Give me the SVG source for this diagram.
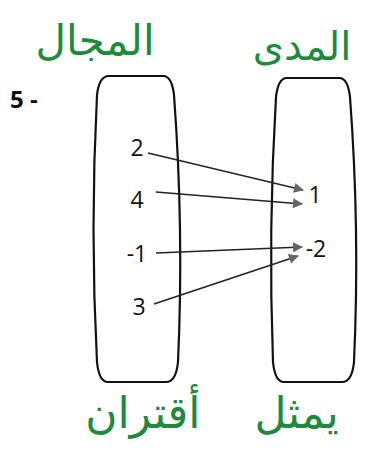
<svg xmlns="http://www.w3.org/2000/svg" width="371" height="450" viewBox="0 0 371 450">
<style>
.set{fill:none;stroke:#111;stroke-width:2.2}
.num{font-family:"Open Sans","Liberation Sans",sans-serif;font-size:23px;fill:#111;text-anchor:middle}
.ar{font-family:"DejaVu Sans","Noto Sans",sans-serif;fill:#1e8a3c;text-anchor:middle}
.ln{stroke:#222;stroke-width:1.4;fill:none;marker-end:url(#ah)}
</style>
<defs>
<marker id="ah" viewBox="0 0 10 10" refX="9" refY="5" markerWidth="12" markerHeight="10" markerUnits="userSpaceOnUse" orient="auto">
<path d="M0,0 L10,5 L0,10 Z" fill="#666"/>
</marker>
</defs>
<rect width="371" height="450" fill="#fff"/>
<text class="ar" x="95" y="55" font-size="42">المجال</text>
<text class="ar" x="302" y="60" font-size="40">المدى</text>
<text x="10" y="108" font-family="Open Sans, Liberation Sans, sans-serif" font-size="24" font-weight="bold" fill="#111" xml:space="preserve">5 -</text>
<g id="domain">
<path class="set" d="M108,76 L164,76 Q172,77 174,95 Q184,230 178,362 Q176,382 166,382 L108,382 Q99,382 97,362 Q90,230 97,95 Q99,77 108,76 Z"/>
<text class="num" x="137" y="156">2</text>
<text class="num" x="137" y="208">4</text>
<text class="num" x="137" y="262">-1</text>
<text class="num" x="139" y="315">3</text>
</g>
<g id="range">
<path class="set" d="M286,78 L340,78 Q348,79 350,97 Q360,230 354,362 Q352,382 342,382 L284,382 Q275,382 273,362 Q268,230 276,97 Q278,79 286,78 Z"/>
<text class="num" x="315" y="203">1</text>
<text class="num" x="316" y="257">-2</text>
</g>
<g id="connectors">
<line class="ln" x1="148" y1="153" x2="303" y2="190"/>
<line class="ln" x1="156" y1="192" x2="302" y2="204"/>
<line class="ln" x1="156" y1="253" x2="302" y2="247"/>
<line class="ln" x1="154" y1="304" x2="298" y2="256"/>
</g>
<text class="ar" x="212" y="428" font-size="44" word-spacing="40">يمثل أقتران</text>
</svg>
